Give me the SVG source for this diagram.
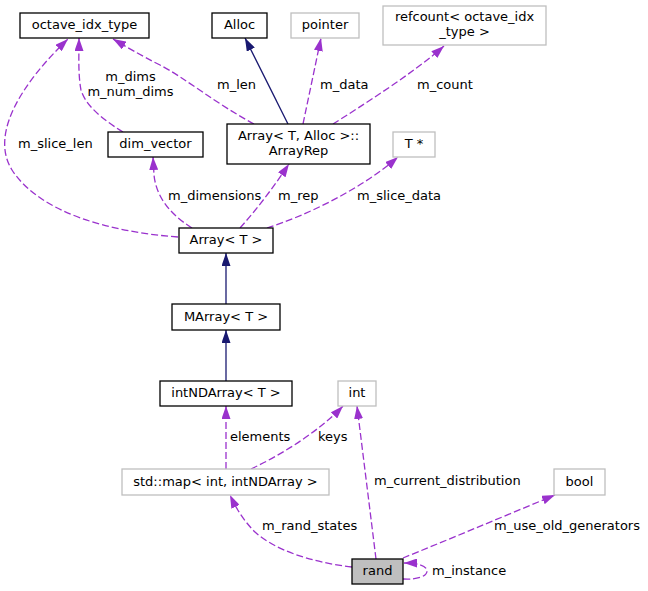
<svg xmlns="http://www.w3.org/2000/svg" width="648" height="591" viewBox="0 0 648 591">
<style>
text{font-family:"DejaVu Sans","Liberation Sans",sans-serif;font-size:13px;fill:#000}
.n rect{fill:#fff;stroke:#000;stroke-width:1.3}
.u rect{fill:#fff;stroke:#bfbfbf;stroke-width:1.3}
.c{text-anchor:middle}
.d{fill:none;stroke:#9a32cd;stroke-width:1.3;stroke-dasharray:7,3;marker-end:url(#ap)}
.b{fill:none;stroke:#191970;stroke-width:1.3;marker-end:url(#ab)}
</style>
<defs>
<marker id="ap" viewBox="0 0 13 9" refX="13" refY="4.5" markerWidth="13" markerHeight="9" markerUnits="userSpaceOnUse" orient="auto"><path d="M0,0 L13,4.5 L0,9 z" fill="#9a32cd"/></marker>
<marker id="ab" viewBox="0 0 13 9" refX="13" refY="4.5" markerWidth="13" markerHeight="9" markerUnits="userSpaceOnUse" orient="auto"><path d="M0,0 L13,4.5 L0,9 z" fill="#191970"/></marker>
</defs>
<rect width="648" height="591" fill="#fff"/>
<g id="edges">
<path class="b" d="M288,124 L245,38"/>
<path class="d" d="M303,124 L321,38"/>
<path class="d" d="M333,124 C360,107 415,72 444,46"/>
<path class="d" d="M254,124 C215,103 185,78 160,65 C140,55 125,46 113,39"/>
<path class="d" d="M123,132 C100,118 85,104 81,90 C78,75 79,55 79,38"/>
<path class="d" d="M178,237 C110,232 40,213 12,170 C-10,135 20,85 68,39"/>
<path class="d" d="M192,228 C168,213 156,195 154,175 L153,157"/>
<path class="d" d="M240,228 C258,208 275,185 289,164"/>
<path class="d" d="M267,228 C305,216 360,190 398,157"/>
<path class="b" d="M226,304 L226,253"/>
<path class="b" d="M226,381 L226,330"/>
<path class="d" d="M226,469 L226,406"/>
<path class="d" d="M251,469 C285,453 320,430 343,406"/>
<path class="d" d="M352,567 C310,562 275,550 255,532 C243,520 236,508 230,495"/>
<path class="d" d="M376,559 L357,406"/>
<path class="d" d="M403,558 C440,543 500,518 555,495"/>
<path class="d" d="M403,579 C418,580 427,576 427,571 C427,566 418,563 404,563"/>
</g>
<g id="labels">
<text x="217" y="89">m_len</text>
<text class="c" x="130.5" y="81">m_dims</text>
<text class="c" x="130.5" y="96">m_num_dims</text>
<text x="320" y="89">m_data</text>
<text x="417" y="89">m_count</text>
<text x="18" y="148">m_slice_len</text>
<text x="168" y="200">m_dimensions</text>
<text x="278" y="200">m_rep</text>
<text x="357" y="200">m_slice_data</text>
<text x="230" y="441">elements</text>
<text x="318" y="441">keys</text>
<text x="374" y="485">m_current_distribution</text>
<text x="262" y="530">m_rand_states</text>
<text x="494" y="530">m_use_old_generators</text>
<text x="432" y="575">m_instance</text>
</g>
<g id="octave_idx_type" class="n"><rect x="20" y="13" width="129" height="25"/><text class="c" x="84.5" y="29">octave_idx_type</text></g>
<g id="Alloc" class="n"><rect x="212" y="13" width="55" height="25"/><text class="c" x="239.5" y="29">Alloc</text></g>
<g id="pointer" class="u"><rect x="291" y="13" width="68" height="25"/><text class="c" x="325" y="29">pointer</text></g>
<g id="refcount" class="u"><rect x="383" y="6" width="163" height="39"/><text class="c" x="464.5" y="21">refcount&lt; octave_idx</text><text class="c" x="464.5" y="36">_type &gt;</text></g>
<g id="dim_vector" class="n"><rect x="108" y="132" width="95" height="25"/><text class="c" x="155.5" y="148">dim_vector</text></g>
<g id="ArrayRep" class="n"><rect x="227" y="124" width="143" height="40"/><text class="c" x="298.5" y="140">Array&lt; T, Alloc &gt;::</text><text class="c" x="298.5" y="155">ArrayRep</text></g>
<g id="Tptr" class="u"><rect x="393" y="132" width="42" height="25"/><text class="c" x="414" y="148">T *</text></g>
<g id="Array" class="n"><rect x="179" y="228" width="94" height="25"/><text class="c" x="226" y="244">Array&lt; T &gt;</text></g>
<g id="MArray" class="n"><rect x="172" y="304" width="108" height="26"/><text class="c" x="226" y="321">MArray&lt; T &gt;</text></g>
<g id="intNDArray" class="n"><rect x="160" y="381" width="132" height="25"/><text class="c" x="226" y="397">intNDArray&lt; T &gt;</text></g>
<g id="int" class="u"><rect x="338" y="381" width="38" height="25"/><text class="c" x="357" y="397">int</text></g>
<g id="stdmap" class="u"><rect x="122" y="469" width="207" height="26"/><text class="c" x="225.5" y="486">std::map&lt; int, intNDArray &gt;</text></g>
<g id="bool" class="u"><rect x="554" y="469" width="51" height="26"/><text class="c" x="579.5" y="486">bool</text></g>
<g id="rand" class="n"><rect x="352" y="559" width="51" height="25" style="fill:#bfbfbf"/><text class="c" x="377.5" y="575">rand</text></g>
</svg>
